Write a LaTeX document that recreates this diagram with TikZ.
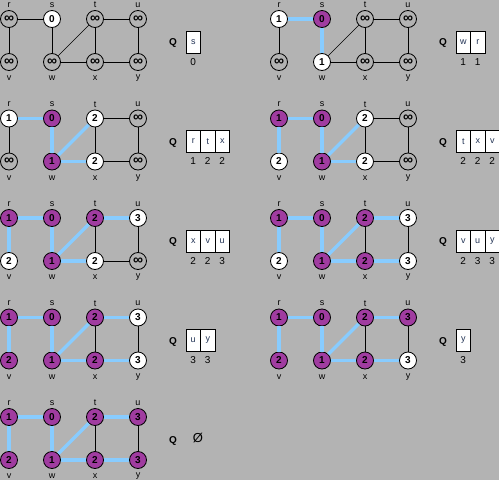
\documentclass[tikz,border=0pt]{standalone}
\usepackage{fontspec}
\setmainfont{Liberation Sans}
\usetikzlibrary{calc}
\definecolor{bg}{HTML}{B3B3B3}
\definecolor{pur}{HTML}{A03CA0}
\definecolor{tree}{HTML}{88CCFF}
\definecolor{qtext}{HTML}{223355}
\newcommand\inff{{\fontsize{14}{14}\selectfont ∞}}
\tikzset{
 vx/.style={circle, draw=black, line width=0.8pt, minimum size=17pt, inner sep=0pt, font=\fontsize{10}{10}\selectfont\bfseries},
 gr/.style={vx, fill=bg},
 wh/.style={vx, fill=white},
 pu/.style={vx, fill=pur},
 lab/.style={font=\fontsize{9}{9}\selectfont, inner sep=0pt},
 bl/.style={draw=black, line width=0.7pt},
 tr/.style={draw=tree, line width=3.5pt},
 qlab/.style={font=\fontsize{10}{10}\selectfont\bfseries, inner sep=0pt},
 qcell/.style={draw=black, fill=white, minimum width=14.5pt, minimum height=22pt, inner sep=0pt, line width=0.7pt, font=\fontsize{9}{9}\selectfont, text=qtext},
 qnum/.style={font=\fontsize{10}{10}\selectfont, inner sep=0pt},
}
% #1 id, #2 ox, #3 oy, #4 nodes name/style/value, #5 edges a/b/style
\newcommand\bfsgraph[5]{%
 \coordinate (#1pr) at (#2+9,#3);
 \coordinate (#1ps) at (#2+52,#3);
 \coordinate (#1pt) at (#2+95,#3);
 \coordinate (#1pu) at (#2+138,#3);
 \coordinate (#1pv) at (#2+9,#3+43);
 \coordinate (#1pw) at (#2+52,#3+43);
 \coordinate (#1px) at (#2+95,#3+43);
 \coordinate (#1py) at (#2+138,#3+43);
 \foreach \n/\st/\val in {#4}{\node[\st] (#1\n) at (#1p\n) {\val};}
 \foreach \a/\b/\st in {#5}{\draw[\st] (#1\a) -- (#1\b);}
 \foreach \n in {r,s,t,u}{\node[lab] (#1l\n) at ($(#1p\n)+(0,-14)$) {\n};}
 \foreach \n in {v,w,x,y}{\node[lab] (#1l\n) at ($(#1p\n)+(0,16.5)$) {\n};}
 \node[qlab] (#1Q) at (#2+173,#3+24) {Q};
}
% #1 id, #2 ox, #3 oy, #4 list letter/number
\newcommand\bfsqueue[4]{%
 \foreach \c/\d [count=\i] in {#4}{%
  \node[qcell] (#1q\i) at (#2+186+7.25+\i*14.5-14.5,#3+23) {\c};
  \node[qnum] (#1n\i) at ($(#1q\i)+(0,20)$) {\d};
 }
}
\begin{document}
\begin{tikzpicture}[x=1pt,y=-1pt]
\fill[bg] (0,0) rectangle (499,480);
\useasboundingbox (0,0) rectangle (499,480);

% Panel A
\bfsgraph{A}{0}{19}{r/gr/\inff,s/wh/0,t/gr/\inff,u/gr/\inff,v/gr/\inff,w/gr/\inff,x/gr/\inff,y/gr/\inff}
 {r/s/bl,r/v/bl,s/w/bl,w/t/bl,w/x/bl,t/x/bl,t/u/bl,x/y/bl,u/y/bl}
\bfsqueue{A}{0}{19}{s/0}

% Panel B
\bfsgraph{B}{270}{19}{r/wh/1,s/pu/0,t/gr/\inff,u/gr/\inff,v/gr/\inff,w/wh/1,x/gr/\inff,y/gr/\inff}
 {r/s/tr,r/v/bl,s/w/tr,w/t/bl,w/x/bl,t/x/bl,t/u/bl,x/y/bl,u/y/bl}
\bfsqueue{B}{270}{19}{w/1,r/1}

% Panel C
\bfsgraph{C}{0}{118.5}{r/wh/1,s/pu/0,t/wh/2,u/gr/\inff,v/gr/\inff,w/pu/1,x/wh/2,y/gr/\inff}
 {r/s/tr,r/v/bl,s/w/tr,w/t/tr,w/x/tr,t/x/bl,t/u/bl,x/y/bl,u/y/bl}
\bfsqueue{C}{0}{118.5}{r/1,t/2,x/2}

% Panel D
\bfsgraph{D}{270}{118.5}{r/pu/1,s/pu/0,t/wh/2,u/gr/\inff,v/wh/2,w/pu/1,x/wh/2,y/gr/\inff}
 {r/s/tr,r/v/tr,s/w/tr,w/t/tr,w/x/tr,t/x/bl,t/u/bl,x/y/bl,u/y/bl}
\bfsqueue{D}{270}{118.5}{t/2,x/2,v/2}

% Panel E
\bfsgraph{E}{0}{218}{r/pu/1,s/pu/0,t/pu/2,u/wh/3,v/wh/2,w/pu/1,x/wh/2,y/gr/\inff}
 {r/s/tr,r/v/tr,s/w/tr,w/t/tr,w/x/tr,t/x/bl,t/u/tr,x/y/bl,u/y/bl}
\bfsqueue{E}{0}{218}{x/2,v/2,u/3}

% Panel F
\bfsgraph{F}{270}{218}{r/pu/1,s/pu/0,t/pu/2,u/wh/3,v/wh/2,w/pu/1,x/pu/2,y/wh/3}
 {r/s/tr,r/v/tr,s/w/tr,w/t/tr,w/x/tr,t/x/bl,t/u/tr,x/y/tr,u/y/bl}
\bfsqueue{F}{270}{218}{v/2,u/3,y/3}

% Panel G
\bfsgraph{G}{0}{317.5}{r/pu/1,s/pu/0,t/pu/2,u/wh/3,v/pu/2,w/pu/1,x/pu/2,y/wh/3}
 {r/s/tr,r/v/tr,s/w/tr,w/t/tr,w/x/tr,t/x/bl,t/u/tr,x/y/tr,u/y/bl}
\bfsqueue{G}{0}{317.5}{u/3,y/3}

% Panel H
\bfsgraph{H}{270}{317.5}{r/pu/1,s/pu/0,t/pu/2,u/pu/3,v/pu/2,w/pu/1,x/pu/2,y/wh/3}
 {r/s/tr,r/v/tr,s/w/tr,w/t/tr,w/x/tr,t/x/bl,t/u/tr,x/y/tr,u/y/bl}
\bfsqueue{H}{270}{317.5}{y/3}

% Panel I
\bfsgraph{I}{0}{417}{r/pu/1,s/pu/0,t/pu/2,u/pu/3,v/pu/2,w/pu/1,x/pu/2,y/pu/3}
 {r/s/tr,r/v/tr,s/w/tr,w/t/tr,w/x/tr,t/x/bl,t/u/tr,x/y/tr,u/y/bl}
\node[font=\fontsize{13}{13}\selectfont, inner sep=0pt] (Iempty) at (198,438) {Ø};

\end{tikzpicture}
\end{document}
